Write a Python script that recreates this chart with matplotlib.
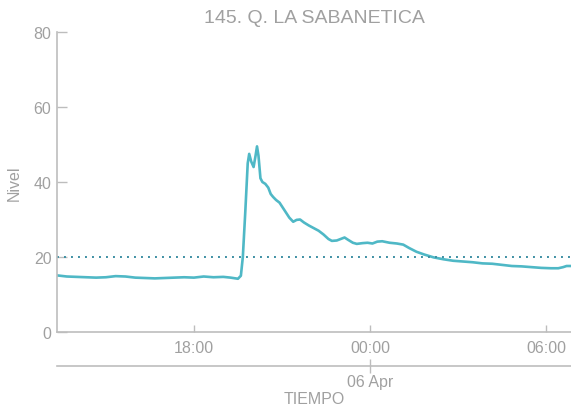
import matplotlib
matplotlib.use("Agg")
import matplotlib.pyplot as plt
import matplotlib.dates as mdates
from datetime import datetime

plt.rcParams['font.family'] = ['Liberation Sans', 'DejaVu Sans']

# Nivel readings (day 5 = 05 Apr, day 6 = 06 Apr)
times = [
    "05 13:20", "05 13:40", "05 14:00", "05 14:20", "05 14:40", "05 15:00",
    "05 15:20", "05 15:40", "05 16:00", "05 16:20", "05 16:40", "05 17:00",
    "05 17:20", "05 17:40", "05 18:00", "05 18:20", "05 18:40", "05 19:00",
    "05 19:15", "05 19:30", "05 19:36", "05 19:40", "05 19:45", "05 19:50",
    "05 19:53", "05 19:57", "05 20:02", "05 20:06", "05 20:09", "05 20:12",
    "05 20:16", "05 20:20", "05 20:26", "05 20:32", "05 20:37", "05 20:42",
    "05 20:48", "05 20:55", "05 21:05", "05 21:15", "05 21:23", "05 21:30",
    "05 21:37", "05 21:45", "05 21:55", "05 22:05", "05 22:15", "05 22:25",
    "05 22:35", "05 22:42", "05 22:52", "05 23:00", "05 23:08", "05 23:15",
    "05 23:25", "05 23:33", "05 23:45", "05 23:55", "06 00:05", "06 00:15",
    "06 00:25", "06 00:40", "06 00:55", "06 01:08", "06 01:20", "06 01:35",
    "06 01:50", "06 02:10", "06 02:30", "06 02:50", "06 03:10", "06 03:30",
    "06 03:50", "06 04:10", "06 04:30", "06 04:50", "06 05:10", "06 05:30",
    "06 05:50", "06 06:10", "06 06:25", "06 06:35", "06 06:42", "06 06:51",
]
nivel = [
    15.1, 14.8, 14.7, 14.6, 14.5, 14.6,
    14.9, 14.8, 14.5, 14.4, 14.3, 14.4,
    14.5, 14.6, 14.5, 14.8, 14.6, 14.7,
    14.5, 14.2, 15.0, 20.0, 32.0, 45.0,
    47.5, 45.5, 44.0, 47.0, 49.5, 47.0,
    41.0, 40.0, 39.5, 38.5, 36.8, 36.0,
    35.2, 34.5, 32.5, 30.5, 29.4, 29.9,
    30.0, 29.2, 28.4, 27.7, 27.0, 26.0,
    24.8, 24.3, 24.4, 24.8, 25.2, 24.6,
    23.8, 23.5, 23.7, 23.8, 23.6, 24.1,
    24.2, 23.8, 23.6, 23.3, 22.4, 21.4,
    20.7, 19.9, 19.4, 19.0, 18.8, 18.6,
    18.3, 18.2, 17.9, 17.6, 17.5, 17.3,
    17.1, 17.0, 17.0, 17.3, 17.6, 17.6,
]
umbral = 20
x_start = "05 13:20"
x_end = "06 06:51"
hour_ticks = ["05 18:00", "06 00:00", "06 06:00"]
day_ticks = ["06 00:00"]
day_labels = ["06 Apr"]


def to_num(s):
    return mdates.date2num(datetime.strptime("2024-04-" + s, "%Y-%m-%d %H:%M"))


x = [to_num(t) for t in times]

grey = '#a0a0a0'
spine = '#bdbdbd'

fig = plt.figure(figsize=(5.71, 4.10), dpi=100)
ax = fig.add_axes([0.0998, 0.1878, 0.9002, 0.7317])

ax.plot(x, nivel, color='#4fb8c6', lw=1.9, solid_joinstyle='round')
ax.axhline(umbral, color='#3d8fa3', lw=1.4, linestyle=(0, (1, 2.6)))

ax.set_xlim(to_num(x_start), to_num(x_end))
ax.set_ylim(0, 80)
ax.set_yticks([0, 20, 40, 60, 80])
ax.set_xticks([to_num(t) for t in hour_ticks])
ax.xaxis.set_major_formatter(mdates.DateFormatter('%H:%M'))

for s in ['top', 'right']:
    ax.spines[s].set_visible(False)
for s in ['left', 'bottom']:
    ax.spines[s].set_color(spine)
    ax.spines[s].set_linewidth(1.2)

ax.tick_params(axis='y', direction='in', length=7, width=1, color=spine,
               labelcolor=grey, labelsize=11.5, pad=4)
ax.tick_params(axis='x', direction='in', length=5, width=1, color=spine,
               labelcolor=grey, labelsize=11.5, pad=6)
ax.set_ylabel('Nivel', color=grey, fontsize=11.5)
ax.yaxis.set_label_coords(-0.068, 0.5)

sec = ax.secondary_xaxis(-0.1133)
sec.set_xticks([to_num(t) for t in day_ticks], labels=day_labels)
sec.spines['bottom'].set_color(spine)
sec.spines['bottom'].set_linewidth(1.2)
sec.tick_params(direction='inout', length=10, width=1, color=spine,
                labelcolor=grey, labelsize=11.5, pad=1)
sec.set_xlabel('TIEMPO', color=grey, fontsize=11.5, labelpad=1)

ax.set_title('145. Q. LA SABANETICA', color=grey, fontsize=14, pad=7)

fig.savefig('out.png', dpi=100)
